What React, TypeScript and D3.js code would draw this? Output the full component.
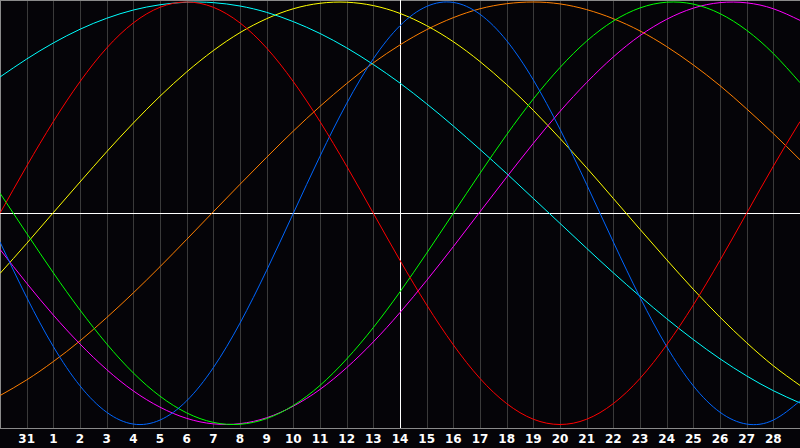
import React from "react";
import * as d3 from "d3";

// day labels, one per grid column (first and last sit on the edges and are not drawn)
const dayLabels = [
  "30", "31", "1", "2", "3", "4", "5", "6", "7", "8", "9", "10", "11", "12", "13",
  "14", "15", "16", "17", "18", "19", "20", "21", "22", "23", "24", "25", "26", "27", "28", "29",
];

// values read per day column, -1 .. 1
const physical = [
  -0.136, -0.398, -0.631, -0.817, -0.942, -0.998, -0.979, -0.888, -0.731, -0.52, -0.27,
  0, 0.27, 0.52, 0.731, 0.888, 0.979, 0.998, 0.942, 0.817, 0.631, 0.398, 0.136,
  -0.136, -0.398, -0.631, -0.817, -0.942, -0.998, -0.979, -0.888,
];
const emotional = [
  0, 0.223, 0.434, 0.623, 0.782, 0.901, 0.975, 1, 0.975, 0.901, 0.782, 0.623, 0.434,
  0.223, 0, -0.223, -0.434, -0.623, -0.782, -0.901, -0.975, -1, -0.975, -0.901,
  -0.782, -0.623, -0.434, -0.223, 0, 0.223, 0.434,
];
const intellectual = [
  0.095, -0.095, -0.282, -0.458, -0.618, -0.756, -0.866, -0.945, -0.99, -0.999,
  -0.972, -0.91, -0.815, -0.69, -0.541, -0.372, -0.189, 0, 0.189, 0.372, 0.541,
  0.69, 0.815, 0.91, 0.972, 0.999, 0.99, 0.945, 0.866, 0.756, 0.618,
];
const intuitive = [
  -0.171, -0.331, -0.482, -0.619, -0.74, -0.841, -0.918, -0.971, -0.997, -0.996,
  -0.968, -0.913, -0.834, -0.731, -0.609, -0.47, -0.318, -0.158, 0.007, 0.171,
  0.331, 0.482, 0.619, 0.74, 0.841, 0.918, 0.971, 0.997, 0.996, 0.968, 0.913,
];
const aesthetic = [
  -0.285, -0.143, 0.003, 0.148, 0.291, 0.427, 0.554, 0.669, 0.77, 0.855, 0.921,
  0.968, 0.994, 0.999, 0.983, 0.946, 0.888, 0.812, 0.718, 0.609, 0.487, 0.354,
  0.215, 0.07, -0.076, -0.22, -0.36, -0.492, -0.613, -0.722, -0.815,
];
const awareness = [
  -0.863, -0.789, -0.702, -0.604, -0.494, -0.377, -0.253, -0.124, 0.007, 0.137,
  0.265, 0.389, 0.506, 0.614, 0.712, 0.797, 0.869, 0.926, 0.968, 0.992, 1, 0.991,
  0.964, 0.921, 0.863, 0.789, 0.702, 0.604, 0.494, 0.377, 0.253,
];
const spiritual = [
  0.645, 0.73, 0.806, 0.871, 0.923, 0.962, 0.987, 0.999, 0.997, 0.981, 0.951,
  0.907, 0.851, 0.783, 0.704, 0.616, 0.518, 0.413, 0.302, 0.188, 0.07, -0.048,
  -0.166, -0.282, -0.393, -0.499, -0.598, -0.689, -0.77, -0.84, -0.898,
];

const seriesColors = ["#ff7f00", "#ffff00", "#00ffff", "#ff00ff", "#00ff00", "#0066ff", "#ff0000"];
const seriesValues = [awareness, aesthetic, spiritual, intuitive, intellectual, physical, emotional];

const W = 800;
const H = 448;
const plotBottom = 428;
const todayIndex = 15;

export default function App() {
  const x = d3.scaleLinear().domain([0, dayLabels.length - 1]).range([0, W]);
  const y = d3.scaleLinear().domain([-1, 1]).range([424.5, 2]);

  const line = d3
    .line<number>()
    .x((_, i) => x(i))
    .y((d) => y(d))
    .curve(d3.curveNatural);

  const zeroY = Math.round(y(0)) + 0.5;

  return (
    <svg
      width={W}
      height={H}
      style={{ position: "absolute", left: 0, top: 0, display: "block" }}
    >
      <rect x={0} y={0} width={W} height={H} fill="#050408" />
      {/* day grid */}
      {dayLabels.map((_, i) =>
        i > 0 && i < dayLabels.length - 1 && i !== todayIndex ? (
          <line
            key={"g" + i}
            x1={Math.round(x(i)) + 0.5}
            x2={Math.round(x(i)) + 0.5}
            y1={0}
            y2={plotBottom}
            stroke="#3a3a3a"
            strokeWidth={1}
          />
        ) : null
      )}
      {/* frame */}
      <line x1={0.5} x2={0.5} y1={0} y2={plotBottom} stroke="#8a8a8a" />
      <line x1={0} x2={W} y1={0.5} y2={0.5} stroke="#8a8a8a" />
      <line x1={0} x2={W} y1={plotBottom + 0.5} y2={plotBottom + 0.5} stroke="#8a8a8a" />
      {/* today + zero line */}
      <line x1={0} x2={W} y1={zeroY} y2={zeroY} stroke="#ffffff" />
      <line
        x1={Math.round(x(todayIndex)) + 0.5}
        x2={Math.round(x(todayIndex)) + 0.5}
        y1={0}
        y2={plotBottom}
        stroke="#ffffff"
      />
      <g clipPath="url(#plotClip)">
        {seriesValues.map((vals, s) => (
          <path
            key={"s" + s}
            d={line(vals) || ""}
            fill="none"
            stroke={seriesColors[s]}
            strokeWidth={1}
          />
        ))}
      </g>
      <defs>
        <clipPath id="plotClip">
          <rect x={0} y={0} width={W} height={plotBottom} />
        </clipPath>
      </defs>
      {dayLabels.map((lab, i) =>
        i > 0 && i < dayLabels.length - 1 ? (
          <text
            key={"t" + i}
            x={x(i)}
            y={443}
            textAnchor="middle"
            fill="#ffffff"
            fontFamily="'DejaVu Sans', sans-serif"
            fontWeight="bold"
            fontSize={12}
          >
            {lab}
          </text>
        ) : null
      )}
    </svg>
  );
}
